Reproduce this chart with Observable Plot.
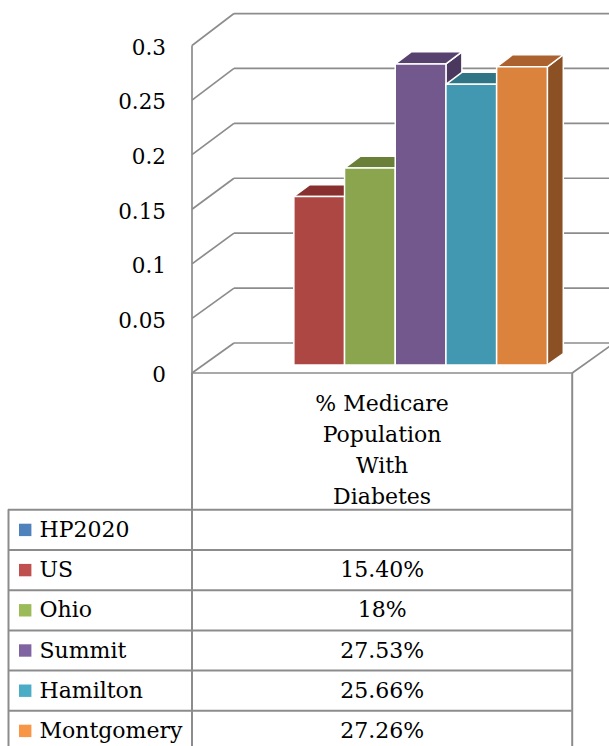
<!DOCTYPE html>
<html><head><meta charset="utf-8">
<script src="https://cdn.jsdelivr.net/npm/d3@7"></script>
<script src="https://cdn.jsdelivr.net/npm/@observablehq/plot@0.6"></script>
<style>
html,body{margin:0;padding:0;background:#fff;}
#wrap{position:relative;width:609px;height:746px;overflow:hidden;background:#fff;}
#wrap svg{position:absolute;left:0;}
</style></head><body><div id="wrap"></div>
<script>
// ---------- data ----------
const categories = ["HP2020", "US", "Ohio", "Summit", "Hamilton", "Montgomery"];
const values = [null, 0.154, 0.18, 0.2753, 0.2566, 0.2726];
const valueLabels = ["", "15.40%", "18%", "27.53%", "25.66%", "27.26%"];
const seriesLabel = "% Medicare\nPopulation\nWith\nDiabetes";
const yTicks = [0, 0.05, 0.1, 0.15, 0.2, 0.25, 0.3];
const yTickLabels = ["0", "0.05", "0.1", "0.15", "0.2", "0.25", "0.3"];

// ---------- styles ----------
const legendColors = ["#4F81BD", "#C0504D", "#9BBB59", "#8064A2", "#4BACC6", "#F79646"];
const frontColors  = ["#4F81BD", "#AC4744", "#8BA54F", "#73588D", "#4298B0", "#DB823D"];
const topColors    = ["#3B6390", "#87302F", "#6A7F38", "#57426F", "#2F7585", "#AB622E"];
const sideColors   = ["#2F5077", "#6F2826", "#56692E", "#4A385F", "#28606F", "#8B5124"];
const FONT = "DejaVu Serif";
const GRID = "#8c8c8c";

// ---------- layout (3D oblique projection) ----------
const X_SLOT0 = 231.3, SLOT = 50.7;          // front plane: slot 0 start, slot width (px)
const Y_BASE = 372.5, Y_TOP = 45;            // front plane: value 0 and 0.3 (px)
const PX_PER_UNIT = (Y_BASE - Y_TOP) / 0.3;
const DEPTH_DX = 42, DEPTH_DY = 30;          // offset of back wall (px)
const PERSP = 0.006;                         // slight growth of value scale with depth
const KX = DEPTH_DX / SLOT, KY = DEPTH_DY / PX_PER_UNIT;
const U_L = (191.5 - X_SLOT0) / SLOT, U_R = (571.7 - X_SLOT0) / SLOT;
const Z0 = 0.27, Z1 = 0.65;                  // bar depth range
const proj = (u, v, z) => ({x: u + z * KX, y: v * (1 + PERSP * z) + z * KY});
const vMax = yTicks[yTicks.length - 1];

// bar faces (painted left to right: side, top, front)
const faces = [];
values.forEach((v, i) => {
  if (v == null) return;
  const quads = [
    [sideColors[i],  [[i + 1, 0, Z0], [i + 1, v, Z0], [i + 1, v, Z1], [i + 1, 0, Z1]]],
    [topColors[i],   [[i, v, Z0], [i + 1, v, Z0], [i + 1, v, Z1], [i, v, Z1]]],
    [frontColors[i], [[i, 0, Z0], [i + 1, 0, Z0], [i + 1, v, Z0], [i, v, Z0]]]
  ];
  quads.forEach(([c, pts], k) => {
    [...pts, pts[0]].forEach(p => faces.push({face: i + "-" + k, fill: c, ...proj(...p)}));
  });
});

// shadow footprint on the floor
const firstBar = values.findIndex(v => v != null);
const shadow = [[firstBar - 0.15, 0, Z0 - 0.1], [values.length + 0.3, 0, Z0 - 0.1],
                [values.length + 0.3, 0, Z1 + 0.08], [firstBar - 0.15, 0, Z1 + 0.08]]
  .map(p => proj(...p));

// walls and floor
const segs = [];
yTicks.forEach(v => {
  segs.push([proj(U_L, v, 1), proj(U_R, v, 1)]);
  segs.push([proj(U_L, v, 0), proj(U_L, v, 1)]);
});
segs.push([proj(U_L, 0, 0), proj(U_L, vMax, 0)]);
segs.push([proj(U_L, 0, 0), proj(U_R, 0, 0)]);
segs.push([proj(U_R, 0, 0), proj(U_R, 0, 1)]);

const chart = Plot.plot({
  width: 609, height: 400,
  marginLeft: 191.5, marginTop: 0, marginRight: 0, marginBottom: 0,
  style: {fontFamily: FONT, fontSize: "22px", background: "transparent", color: "#000"},
  x: {domain: [0, values.length], range: [X_SLOT0, X_SLOT0 + values.length * SLOT], axis: null},
  y: {domain: [0, vMax], range: [Y_BASE, Y_TOP], label: null},
  color: {type: "identity"},
  marks: [
    Plot.link(segs, {x1: d => d[0].x, y1: d => d[0].y, x2: d => d[1].x, y2: d => d[1].y,
      stroke: GRID, strokeWidth: 1.7}),
    Plot.line(shadow.concat([shadow[0]]), {x: "x", y: "y", fill: "#a0a0a0", fillOpacity: 0.3,
      stroke: "none", ariaLabel: "shadow"}),
    Plot.line(faces, {x: "x", y: "y", z: "face", fill: "fill", stroke: "white", strokeWidth: 1.5,
      strokeLinejoin: "miter"}),
    Plot.axisY(yTicks, {anchor: "left", tickSize: 0, tickPadding: 26, label: null, dy: 2.5,
      tickFormat: (d, i) => yTickLabels[i], fontSize: 21.5, fill: "#000"})
  ]
});
chart.style.top = "0px";
const defs = d3.select(chart).append("defs");
defs.append("filter").attr("id", "blur").attr("x", "-20%").attr("y", "-50%").attr("width", "140%").attr("height", "200%")
  .append("feGaussianBlur").attr("stdDeviation", 2.5);
d3.select(chart).select('[aria-label="shadow"]').attr("filter", "url(#blur)");

// ---------- data table ----------
const ROW = 40.2, TABLE_TOP = 373, HDR = (509.3 - TABLE_TOP) / ROW;
const TBL_L = 8, TBL_C = 191.5, TBL_R = 571.7;      // column borders (px)
const C1 = 2 * (TBL_C - TBL_L) / (TBL_R - TBL_L);    // label/value border in column units
const VAL_X = (C1 + 2) / 2;
const rowIdx = categories.map((_, i) => i);
const table = Plot.plot({
  width: 609, height: 746 - TABLE_TOP,
  marginLeft: 0, marginRight: 0, marginTop: 0, marginBottom: 0,
  style: {fontFamily: FONT, fontSize: "22px", background: "transparent", color: "#000"},
  x: {domain: [0, 2], range: [TBL_L, TBL_R], axis: null},
  y: {domain: [-HDR, categories.length], range: [0, (HDR + categories.length) * ROW], axis: null},
  color: {type: "identity"},
  marks: [
    Plot.ruleY(rowIdx.concat([categories.length]), {x1: 0, x2: 2, stroke: GRID, strokeWidth: 2}),
    Plot.ruleX([0], {y1: 0, y2: categories.length, stroke: GRID, strokeWidth: 2}),
    Plot.ruleX([C1, 2], {y1: -HDR, y2: categories.length, stroke: GRID, strokeWidth: 2}),
    Plot.text([seriesLabel], {x: VAL_X, y: -HDR / 2, dy: 6, lineHeight: 1.4, fontSize: 22,
      text: d => d, fill: "#000"}),
    Plot.dot(rowIdx, {x: 0, y: i => i + 0.5, dx: 16.7, symbol: "square", r: 7,
      fill: i => legendColors[i], stroke: "none"}),
    Plot.text(rowIdx, {x: 0, y: i => i + 0.5, dx: 31, textAnchor: "start",
      text: i => categories[i], fontSize: 22, fill: "#000"}),
    Plot.text(rowIdx, {x: VAL_X, y: i => i + 0.5, text: i => valueLabels[i], fontSize: 22, fill: "#000"})
  ]
});
table.style.top = TABLE_TOP + "px";

const wrap = document.getElementById("wrap");
wrap.appendChild(chart);
wrap.appendChild(table);
</script>
</body></html>
